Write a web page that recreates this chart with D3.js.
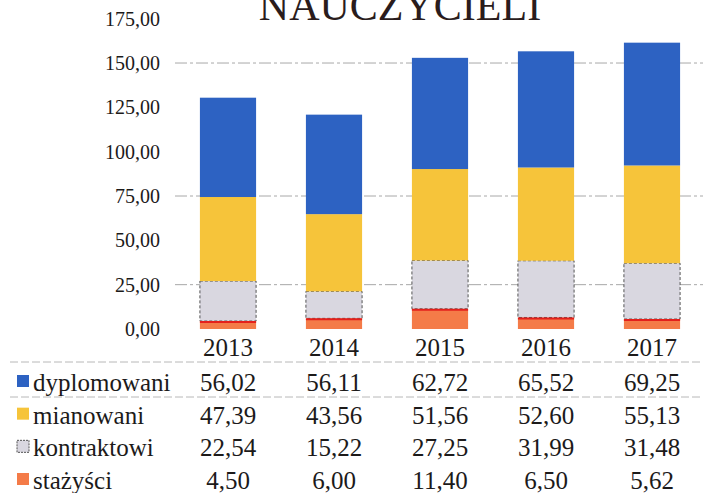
<!DOCTYPE html>
<html>
<head>
<meta charset="utf-8">
<script src="https://cdn.jsdelivr.net/npm/d3@7"></script>
</head>
<body style="margin:0; background:#fff">
<div id="chart"></div>
<script>
var width = 703,
    height = 493;

const FONT = "Liberation Serif";
const INK = "#1c1a1a";
const BASE = 28; // texts are drawn at this size and scaled down

// data
const years = ["2013", "2014", "2015", "2016", "2017"];
const seriesNames = ["stażyści", "kontraktowi", "mianowani", "dyplomowani"];
const stazysci    = [4.50, 6.00, 11.40, 6.50, 5.62];
const kontraktowi = [22.54, 15.22, 27.25, 31.99, 31.48];
const mianowani   = [47.39, 43.56, 51.56, 52.60, 55.13];
const dyplomowani = [56.02, 56.11, 62.72, 65.52, 69.25];
const yTicks = [0, 25, 50, 75, 100, 125, 150, 175];
const gridValues = [25, 75, 150];

const seriesValues = {
    "stażyści": stazysci,
    "kontraktowi": kontraktowi,
    "mianowani": mianowani,
    "dyplomowani": dyplomowani
};
// order in the table below the chart
const tableOrder = ["dyplomowani", "mianowani", "kontraktowi", "stażyści"];

const colors = {
    "dyplomowani": "#2d62c2",
    "mianowani": "#f6c43a",
    "kontraktowi": "#d9d7e0",
    "stażyści": "#f47b48"
};

var rows = years.map((y, i) => {
    let r = { year: y };
    seriesNames.forEach(s => r[s] = seriesValues[s][i]);
    return r;
});

var stacked = d3.stack().keys(seriesNames)(rows);

var xScale = d3.scaleBand().domain(years).range([175, 705]).paddingInner(0.47).paddingOuter(0.235),
    yScale = d3.scaleLinear().domain([0, 175]).range([329, 18.7]);

var fmt = d => d3.format(".2f")(d).replace(".", ",");

// serif text of a given size, anchored at (x, y)
function serif(sel, size, x, y) {
    sel.attr("x", 0).attr("y", 0).attr("dy", null)
        .attr("transform", function(d) {
            var tx = typeof x === "function" ? x(d) : x,
                ty = typeof y === "function" ? y(d) : y;
            return "translate(" + tx + "," + ty + ") scale(" + (size / BASE) + ")";
        })
        .attr("font-family", FONT)
        .style("font-family", FONT)
        .style("font-size", BASE + "px")
        .style("fill", INK);
}

var svg = d3.select("#chart")
    .append("svg")
    .attr("width", width)
    .attr("height", height)
    .attr("font-family", FONT);

// title (cut off at the top in the original scan)
svg.append("text")
    .attr("x", 400)
    .attr("y", 20)
    .attr("text-anchor", "middle")
    .attr("font-family", FONT)
    .style("font-family", FONT)
    .style("font-size", "42px")
    .style("fill", "#2a1c1c")
    .text("NAUCZYCIELI");

// gridlines
svg.append("g")
    .selectAll("line")
    .data(gridValues)
    .enter().append("line")
    .attr("x1", 175)
    .attr("x2", 703)
    .attr("y1", d => yScale(d))
    .attr("y2", d => yScale(d))
    .style("stroke", "#a8a8a8")
    .style("stroke-width", 1)
    .style("stroke-dasharray", "12,3,3,3");

// Y-axis
var yAxis = d3.axisLeft(yScale)
    .tickValues(yTicks)
    .tickSize(0)
    .tickPadding(0)
    .tickFormat(fmt);

var yG = svg.append("g")
    .attr("transform", "translate(160,0)")
    .call(yAxis)
    .attr("font-family", FONT);
yG.select(".domain").remove();
yG.selectAll("text").call(serif, 20, 0, 6.5);

// bars
var layers = svg.selectAll(".layer")
    .data(stacked)
    .enter().append("g")
    .attr("class", "layer")
    .style("fill", d => colors[d.key]);

layers.selectAll("rect")
    .data(d => d)
    .enter().append("rect")
    .attr("x", d => xScale(d.data.year))
    .attr("width", xScale.bandwidth())
    .attr("y", d => yScale(d[1]))
    .attr("height", d => yScale(d[0]) - yScale(d[1]));

// dashed outline on the grey segment
layers.filter(d => d.key === "kontraktowi").selectAll("rect")
    .style("stroke", "#555")
    .style("stroke-width", 1)
    .style("stroke-dasharray", "3,2");

// red top edge on the bottom segment
svg.append("g")
    .selectAll("line")
    .data(stacked[0])
    .enter().append("line")
    .attr("x1", d => xScale(d.data.year))
    .attr("x2", d => xScale(d.data.year) + xScale.bandwidth())
    .attr("y1", d => yScale(d[1]) + 1)
    .attr("y2", d => yScale(d[1]) + 1)
    .style("stroke", "#e4201c")
    .style("stroke-width", 2);

// X-axis (years)
var xAxis = d3.axisBottom(xScale).tickSize(0).tickPadding(9);
var xG = svg.append("g")
    .attr("transform", "translate(0,329)")
    .call(xAxis)
    .attr("font-family", FONT);
xG.select(".domain").remove();
xG.selectAll("text").call(serif, 25, 0, 26.5);

// table lines
[362, 397].forEach(y => {
    svg.append("line")
        .attr("x1", 10).attr("x2", 703)
        .attr("y1", y).attr("y2", y)
        .style("stroke", "#b8b8b8")
        .style("stroke-width", 1)
        .style("stroke-dasharray", "8,3");
});

// data table
var rowY = d3.scalePoint().domain(tableOrder).range([383, 481]);

var tRows = svg.selectAll(".trow")
    .data(tableOrder)
    .enter().append("g")
    .attr("class", "trow")
    .attr("transform", d => "translate(0," + rowY(d) + ")");

tRows.append("rect")
    .attr("x", 17)
    .attr("y", -8)
    .attr("width", 12)
    .attr("height", 12)
    .style("fill", d => colors[d])
    .style("stroke", d => d === "kontraktowi" ? "#555" : "none")
    .style("stroke-dasharray", "2,1");

tRows.append("text")
    .call(serif, 25, 33, 8)
    .text(d => d);

tRows.selectAll(".val")
    .data(d => seriesValues[d].map((v, i) => ({ year: years[i], value: v })))
    .enter().append("text")
    .attr("class", "val")
    .attr("text-anchor", "middle")
    .call(serif, 25, d => xScale(d.year) + xScale.bandwidth() / 2, 8)
    .text(d => fmt(d.value));
</script>
</body>
</html>
